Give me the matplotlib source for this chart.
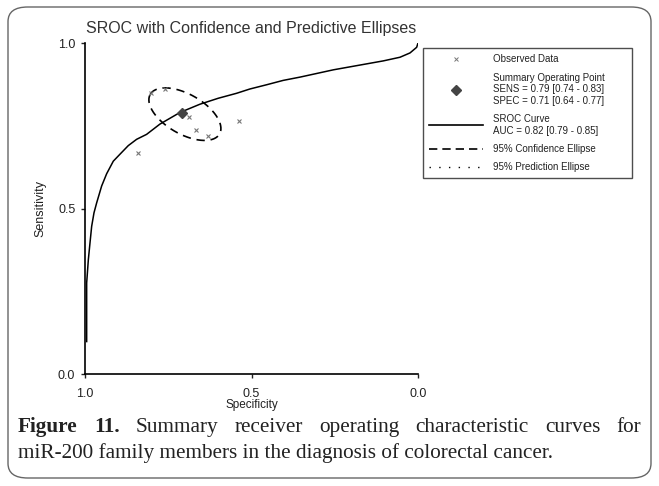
import numpy as np
import matplotlib
matplotlib.use("Agg")
import matplotlib.pyplot as plt
from matplotlib.lines import Line2D
from matplotlib.patches import FancyBboxPatch

plt.rcParams['font.family'] = ['Liberation Sans', 'DejaVu Sans']

# ---------------------------------------------------------------
# data
# ---------------------------------------------------------------
# observed studies (specificity, sensitivity)
obs_spec = [0.802, 0.760, 0.689, 0.667, 0.630, 0.538, 0.842]
obs_sens = [0.848, 0.861, 0.775, 0.738, 0.720, 0.763, 0.667]

# summary operating point
sum_spec = 0.71
sum_sens = 0.79

# SROC curve
sroc_spec = [0.995, 0.995, 0.990, 0.985, 0.980, 0.973, 0.965, 0.950,
             0.935, 0.915, 0.895, 0.870, 0.845, 0.815, 0.775, 0.715,
             0.655, 0.600, 0.545, 0.505, 0.454, 0.405, 0.354, 0.304,
             0.254, 0.204, 0.154, 0.104, 0.054, 0.024, 0.004, 0.0]
sroc_sens = [0.098, 0.275, 0.345, 0.396, 0.446, 0.487, 0.517, 0.568,
             0.605, 0.643, 0.664, 0.690, 0.709, 0.724, 0.755, 0.790,
             0.815, 0.833, 0.848, 0.861, 0.874, 0.887, 0.897, 0.908,
             0.919, 0.928, 0.937, 0.946, 0.957, 0.970, 0.987, 1.0]

# 95% confidence ellipse around the summary point
conf_center = (0.70, 0.785)
conf_axes = (0.12, 0.06)
conf_angle = 30.0

ticks = [1.0, 0.5, 0.0]
tick_labels = ['1.0', '0.5', '0.0']

legend_labels = ['Observed Data',
                 'Summary Operating Point\nSENS = 0.79 [0.74 - 0.83]\nSPEC = 0.71 [0.64 - 0.77]',
                 'SROC Curve\nAUC = 0.82 [0.79 - 0.85]',
                 '95% Confidence Ellipse',
                 '95% Prediction Ellipse']

caption_bold = 'Figure 11.'
caption_line1 = 'Summary receiver operating characteristic curves for'
caption_line2 = 'miR-200 family members in the diagnosis of colorectal cancer.'

# ---------------------------------------------------------------
# figure
# ---------------------------------------------------------------
W, H = 659, 486
fig = plt.figure(figsize=(W / 100, H / 100), dpi=100)

# rounded frame around everything
frame = FancyBboxPatch((8 / W, 8 / H), 643 / W, 471 / H,
                       boxstyle="round,pad=0,rounding_size=0.03",
                       transform=fig.transFigure, fill=False,
                       edgecolor='#666666', linewidth=1.0)
fig.patches.append(frame)

ax = fig.add_axes([85 / W, 1 - 374 / H, 333 / W, 331 / H])

t = np.linspace(0, 2 * np.pi, 200)
a, b = conf_axes
th = np.deg2rad(conf_angle)
ex = conf_center[0] + a * np.cos(t) * np.cos(th) - b * np.sin(t) * np.sin(th)
ey = conf_center[1] + a * np.cos(t) * np.sin(th) + b * np.sin(t) * np.cos(th)

ax.plot(sroc_spec, sroc_sens, color='black', lw=1.1)
ax.plot(ex, ey, color='black', lw=1.2, dashes=(5, 3.5))
ax.plot(obs_spec, obs_sens, ls='none', marker='x', ms=3.5, mew=0.8,
        color='#777777')
ax.plot([sum_spec], [sum_sens], ls='none', marker='D', ms=5,
        color='#444444')

ax.set_xlim(1, 0)
ax.set_ylim(0, 1)
ax.set_xticks(ticks)
ax.set_xticklabels(tick_labels)
ax.set_yticks(ticks)
ax.set_yticklabels(tick_labels)
for s in ['top', 'right']:
    ax.spines[s].set_visible(False)
for s in ['left', 'bottom']:
    ax.spines[s].set_linewidth(1.2)
ax.tick_params(axis='x', direction='out', length=3, width=1.0,
               pad=7, labelsize=9, colors='#222222')
ax.tick_params(axis='y', direction='out', length=3, width=1.0,
               pad=4, labelsize=9, colors='#222222')
ax.set_xlabel('Specificity', fontsize=8.5, labelpad=-1, color='#222222')
ax.set_ylabel('Sensitivity', fontsize=9, labelpad=8, color='#222222')
ax.patch.set_alpha(0)

fig.text(251 / W, 1 - 29 / H,
         'SROC with Confidence and Predictive Ellipses',
         ha='center', va='center', fontsize=11.5, color='#333333')

# legend
handles = [Line2D([], [], ls='none', marker='x', ms=3, mew=0.7, color='#777777'),
           Line2D([], [], ls='none', marker='D', ms=5, color='#444444'),
           Line2D([], [], color='black', lw=1.2),
           Line2D([], [], color='black', lw=1.2, dashes=(5, 3)),
           Line2D([], [], color='black', lw=1.0, dashes=(1, 6))]
leg = fig.legend(handles, legend_labels, loc='upper left',
                 bbox_to_anchor=(423 / W, 1 - 179 / H, 209 / W, 131 / H),
                 mode='expand', fontsize=7, handlelength=5.5,
                 handletextpad=1.1, labelspacing=0.85, borderpad=0.65,
                 borderaxespad=0, fancybox=False, frameon=True)
leg.get_frame().set_edgecolor('#222222')
leg.get_frame().set_linewidth(1.0)
for txt in leg.get_texts():
    txt.set_color('#222222')

# caption, first line justified between the margins
serif = ['Liberation Serif', 'DejaVu Serif']
renderer = fig.canvas.get_renderer()
left, right = 18, 641
y1, y2 = 1 - 427 / H, 1 - 453 / H
words = [(w, 'bold') for w in caption_bold.split()] + \
        [(w, 'normal') for w in caption_line1.split()]
pieces = []
total = 0
for w, weight in words:
    tx = fig.text(0, y1, w, fontsize=15.3, family=serif, weight=weight,
                  va='center', ha='left', color='#222222')
    width = tx.get_window_extent(renderer).width
    pieces.append((tx, width))
    total += width
gap = (right - left - total) / (len(pieces) - 1)
x = left
for tx, width in pieces:
    tx.set_x(x / W)
    x += width + gap

fig.text(left / W, y2, caption_line2, fontsize=15.3, family=serif,
         va='center', ha='left', color='#222222')

fig.savefig('out.png', dpi=100)
